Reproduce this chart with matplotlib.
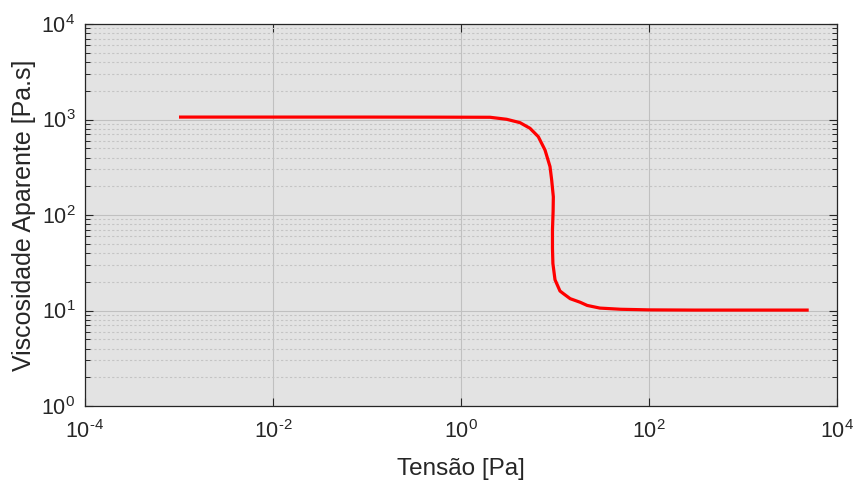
import math
import matplotlib
matplotlib.use("Agg")
import matplotlib.pyplot as plt
from matplotlib.ticker import LogLocator, NullFormatter, FixedLocator, FuncFormatter

plt.rcParams['font.family'] = ['Liberation Sans', 'DejaVu Sans']
plt.rcParams['mathtext.fontset'] = 'custom'
plt.rcParams['mathtext.rm'] = 'Liberation Sans'
plt.rcParams['mathtext.it'] = 'Liberation Sans:italic'
plt.rcParams['mathtext.bf'] = 'Liberation Sans:bold'
plt.rcParams['mathtext.default'] = 'regular'
plt.rcParams['axes.unicode_minus'] = False

# Shear stress [Pa] and apparent viscosity [Pa.s]
tensao = [1e-3, 1e-2, 1e-1, 0.6, 2.04, 3.06, 4.24, 5.42, 6.64, 7.83,
          8.85, 9.22, 9.6, 9.55, 9.4, 9.4, 9.5, 10.0, 11.3, 12.3, 14.5,
          18.5, 22.0, 30.0, 50.0, 80.0, 100.0, 300.0, 1000.0, 5000.0]
viscosidade = [1060, 1060, 1060, 1058, 1055, 1005, 927, 809, 661, 479,
               321, 232, 155, 110, 70, 45, 31, 21, 16.0, 15.0, 13.3,
               12.2, 11.3, 10.6, 10.3, 10.2, 10.15, 10.1, 10.1, 10.1]


def pow10_label(v, pos):
    e = int(round(math.log10(v)))
    exp = (r'\text{-}' + str(-e)) if e < 0 else str(e)
    return r'$10^{' + exp + '}$'


fig = plt.figure(figsize=(8.55, 4.82), dpi=100)
ax = fig.add_axes([85/855, 1 - 406/482, (837-85)/855, (406-24)/482])
ax.set_facecolor('#e3e3e3')

ax.plot(tensao, viscosidade, color='#ff0000', linewidth=2.3, zorder=3,
        solid_capstyle='butt', solid_joinstyle='round')

ax.set_xscale('log')
ax.set_yscale('log')
ax.set_xlim(1e-4, 1e4)
ax.set_ylim(1e0, 1e4)

ax.xaxis.set_major_locator(FixedLocator([1e-4, 1e-2, 1e0, 1e2, 1e4]))
ax.xaxis.set_minor_locator(FixedLocator([]))
ax.xaxis.set_major_formatter(FuncFormatter(pow10_label))
ax.yaxis.set_major_locator(LogLocator(base=10, numticks=10))
ax.yaxis.set_minor_locator(LogLocator(base=10, subs=range(2, 10), numticks=20))
ax.yaxis.set_major_formatter(FuncFormatter(pow10_label))
ax.yaxis.set_minor_formatter(NullFormatter())

ax.grid(True, which='major', color='#c0c0c0', linewidth=0.8, linestyle='-')
ax.grid(True, which='minor', axis='y', color='#c4c4c4', linewidth=0.8,
        linestyle=(0, (2.0, 2.0)))
ax.set_axisbelow(True)

text_color = '#262626'
for s in ax.spines.values():
    s.set_color('#262626')
    s.set_linewidth(0.9)

ax.tick_params(which='both', direction='in', top=True, right=True,
               colors='#262626', labelcolor=text_color, labelsize=15.5)
ax.tick_params(which='major', length=6, width=0.8)
ax.tick_params(axis='x', which='major', pad=10)
ax.tick_params(axis='y', which='major', pad=7)
ax.tick_params(which='minor', length=3.5, width=0.7)

ax.set_xlabel('Tensão [Pa]', fontsize=17.5, color=text_color, labelpad=11)
ax.set_ylabel('Viscosidade Aparente [Pa.s]', fontsize=18, color=text_color,
              labelpad=4)

fig.savefig('out.png', dpi=100, facecolor='white')
